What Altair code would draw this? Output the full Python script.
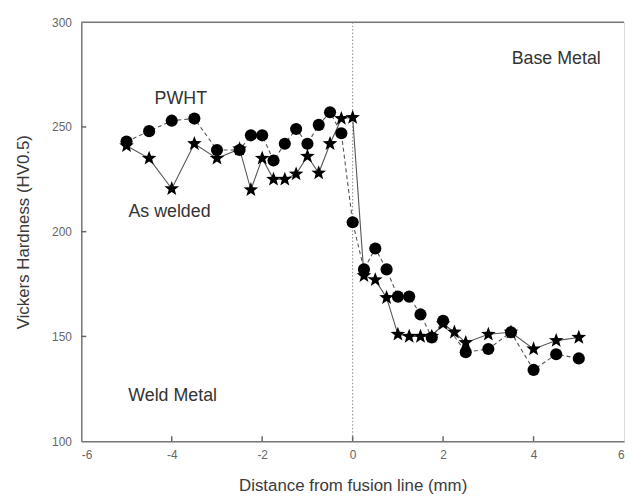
import math
import altair as alt
import pandas as pd

# PWHT (circles, dashed line)
pwht_x = [-5, -4.5, -4, -3.5, -3, -2.5, -2.25, -2, -1.75, -1.5, -1.25, -1, -0.75, -0.5, -0.25,
          0, 0.25, 0.5, 0.75, 1, 1.25, 1.5, 1.75, 2, 2.5, 3, 3.5, 4, 4.5, 5]
pwht_y = [243, 248, 253, 254, 239, 239, 246, 246, 234, 242, 249, 242, 251, 257, 247,
          204.5, 182, 192, 182, 169, 169, 160.5, 149.5, 157.5, 142.5, 144, 152, 134, 141.5, 139.5]

# As welded (stars, solid line)
aw_x = [-5, -4.5, -4, -3.5, -3, -2.5, -2.25, -2, -1.75, -1.5, -1.25, -1, -0.75, -0.5, -0.25,
        0, 0.25, 0.5, 0.75, 1, 1.25, 1.5, 1.75, 2, 2.25, 2.5, 3, 3.5, 4, 4.5, 5]
aw_y = [241, 235, 220.5, 242, 235, 239.5, 220, 235, 225, 225, 227.5, 236, 228, 242, 254,
        254.5, 179, 177, 168.5, 151, 150, 150, 150, 156, 152, 147, 151, 152, 144, 148, 149.5]

x_ticks = [-6, -4, -2, 0, 2, 4, 6]
y_ticks = [100, 150, 200, 250, 300]
x_inner_ticks = [-4, -2, 0, 2, 4]
y_inner_ticks = [150, 200, 250]

ann_text = ["PWHT", "As welded", "Weld Metal", "Base Metal"]
ann_x = [-3.8, -4.05, -3.98, 4.5]
ann_y = [263.5, 209.5, 121.5, 282.5]

X_DOM = [-6, 6]
Y_DOM = [100, 300]
W, H = 548, 423
TICK_PX = 5

pwht = pd.DataFrame({"x": pwht_x, "y": pwht_y})
aw = pd.DataFrame({"x": aw_x, "y": aw_y})
ann = pd.DataFrame({"t": ann_text, "x": ann_x, "y": ann_y})
# inward tick marks: from the axis line, TICK_PX pixels into the plot
xt = pd.DataFrame({"x": x_inner_ticks, "y": [Y_DOM[0]] * len(x_inner_ticks),
                   "y2": [Y_DOM[0] + TICK_PX / H * (Y_DOM[1] - Y_DOM[0])] * len(x_inner_ticks)})
yt = pd.DataFrame({"y": y_inner_ticks, "x": [X_DOM[0]] * len(y_inner_ticks),
                   "x2": [X_DOM[0] + TICK_PX / W * (X_DOM[1] - X_DOM[0])] * len(y_inner_ticks)})

# five-pointed star symbol path in the unit box
pts = []
for i in range(10):
    r = 1.0 if i % 2 == 0 else 0.42
    a = -math.pi / 2 + i * math.pi / 5
    pts.append(f"{r * math.cos(a):.3f},{r * math.sin(a):.3f}")
STAR = "M" + " L".join(pts) + " Z"

FONT = "Liberation Sans"
xs = alt.Scale(domain=X_DOM, nice=False, zero=False)
ys = alt.Scale(domain=Y_DOM, nice=False, zero=False)

x_axis = alt.Axis(orient="bottom", values=x_ticks, ticks=False, grid=False, domainColor="#777", domainWidth=1.5,
                  labelColor="#666", labelFontSize=12, labelFont=FONT, labelPadding=9,
                  labelExpr="'' + datum.value",
                  title="Distance from fusion line (mm)", titleFont=FONT, titleFontSize=17,
                  titleFontWeight="normal", titleColor="#3a3a3a", titleY=45, titleBaseline="middle")
y_axis = alt.Axis(orient="left", values=y_ticks, ticks=False, grid=False, domainColor="#777", domainWidth=1.5,
                  labelColor="#666", labelFontSize=12, labelFont=FONT, labelPadding=10,
                  title="Vickers Hardness (HV0.5)", titleFont=FONT, titleFontSize=17,
                  titleFontWeight="normal", titleColor="#3a3a3a", titleX=-58, titleBaseline="middle")

X = alt.X("x:Q", scale=xs, axis=x_axis)
Y = alt.Y("y:Q", scale=ys, axis=y_axis)

pw_line = alt.Chart(pwht).mark_line(color="#555", strokeWidth=1.1, strokeDash=[4, 3]).encode(x=X, y=Y)
aw_line = alt.Chart(aw).mark_line(color="#555", strokeWidth=1.1).encode(x=X, y=Y)
pw_pts = alt.Chart(pwht).mark_point(shape="circle", filled=True, color="#000", size=150, opacity=1).encode(x=X, y=Y)
aw_pts = alt.Chart(aw).mark_point(shape=STAR, filled=True, color="#000", size=240, opacity=1).encode(x=X, y=Y)

top_line = alt.Chart(pd.DataFrame({"y": [Y_DOM[1]]})).mark_rule(color="#777", strokeWidth=1.5).encode(y=Y)
zero_line = alt.Chart(pd.DataFrame({"x": [0]})).mark_rule(color="#888", strokeWidth=1, strokeDash=[1.5, 2]).encode(x=X)
xtick = alt.Chart(xt).mark_rule(color="#666", strokeWidth=1.5).encode(x=X, y=Y, y2="y2:Q")
ytick = alt.Chart(yt).mark_rule(color="#666", strokeWidth=1.5).encode(y=Y, x=X, x2="x2:Q")

texts = alt.Chart(ann).mark_text(font=FONT, fontSize=18, color="#333", align="center", baseline="middle").encode(
    x=X, y=Y, text="t:N")

chart = alt.layer(pw_line, zero_line, top_line, xtick, ytick, aw_line, pw_pts, aw_pts, texts).properties(
    width=W, height=H,
    autosize=alt.AutoSizeParams(type="none"),
    padding={"left": 74, "top": 12, "right": 3, "bottom": 51},
).configure_view(stroke=None).configure(background="white")

chart.save("out.html", embed_options={"renderer": "svg", "actions": False})
